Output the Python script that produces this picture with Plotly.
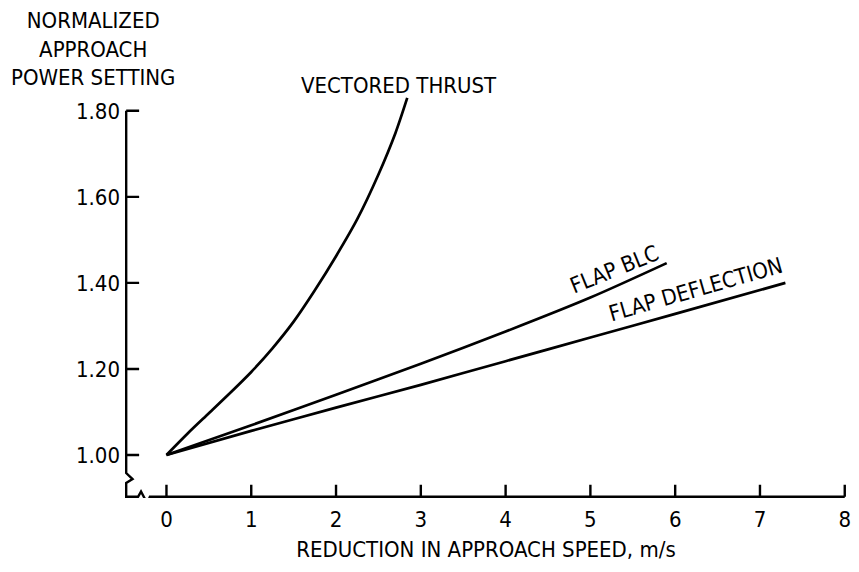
import plotly.graph_objects as go

# ---- data ----
vt_x = [0, 0.25, 0.5, 0.75, 1.0, 1.25, 1.5, 1.75, 2.0, 2.25, 2.5, 2.7, 2.84]
vt_y = [1.0, 1.05, 1.097, 1.144, 1.193, 1.248, 1.31, 1.383, 1.462, 1.548, 1.652, 1.748, 1.83]

blc_x = [0, 1, 2, 3, 4, 5, 5.9]
blc_y = [1.0, 1.069, 1.14, 1.212, 1.287, 1.366, 1.446]

fd_x = [0, 1, 2, 3, 4, 5, 6, 7.3]
fd_y = [1.0, 1.056, 1.11, 1.163, 1.218, 1.273, 1.328, 1.40]

x_ticks = [0, 1, 2, 3, 4, 5, 6, 7, 8]
x_tick_labels = ["0", "1", "2", "3", "4", "5", "6", "7", "8"]
y_ticks = [1.0, 1.2, 1.4, 1.6, 1.8]
y_tick_labels = ["1.00", "1.20", "1.40", "1.60", "1.80"]

FONT = "DejaVu Sans Condensed, Liberation Sans Narrow, DejaVu Sans"
FS = 22
XR = [-0.489, 8.0265]
YR = [0.9, 1.86]
X_PER_PX = (XR[1] - XR[0]) / 726.0
Y_PER_PX = (YR[1] - YR[0]) / 413.0

fig = go.Figure()
for xs, ys in [(vt_x, vt_y), (blc_x, blc_y), (fd_x, fd_y)]:
    fig.add_trace(go.Scatter(x=xs, y=ys, mode="lines",
                             line=dict(color="black", width=2.7, shape="spline", smoothing=0.8),
                             hoverinfo="skip", showlegend=False))

# axis lines with breaks, plus tick marks pointing into the plot (decoration)
x0 = XR[0] + 1.2 * X_PER_PX
yb = YR[0] + 1.2 * Y_PER_PX
path = (f"M {x0},1.8 L {x0},0.958 L {x0+0.075},0.944 L {x0},0.935 L {x0},{yb} "
        f"L -0.335,{yb} L -0.3,0.915 L -0.228,0.888 L -0.195,{yb} L 8.0,{yb}")
for t in x_ticks:
    path += f" M {t},{yb} L {t},{yb + 12 * Y_PER_PX}"
for t in y_ticks:
    path += f" M {x0},{t} L {x0 + 13 * X_PER_PX},{t}"
fig.add_shape(type="path", xref="x", yref="y", path=path,
              line=dict(color="black", width=2.4))

fig.add_annotation(text="NORMALIZED<br>APPROACH<br>POWER SETTING", xref="paper", yref="paper",
                   x=-0.0447, y=1.087, xanchor="center", yanchor="middle", showarrow=False,
                   align="center", font=dict(family=FONT, size=FS, color="black"))
fig.add_annotation(text="VECTORED THRUST", xref="x", yref="y", x=2.74, y=1.86,
                   showarrow=False, font=dict(family=FONT, size=FS, color="black"))
fig.add_annotation(text="FLAP BLC", xref="x", yref="y", x=5.28, y=1.43, textangle=-22,
                   showarrow=False, font=dict(family=FONT, size=FS, color="black"))
fig.add_annotation(text="FLAP DEFLECTION", xref="x", yref="y", x=6.24, y=1.384, textangle=-16,
                   showarrow=False, font=dict(family=FONT, size=FS, color="black"))

fig.update_xaxes(range=XR, showgrid=False, zeroline=False, showline=False,
                 tickmode="array", tickvals=x_ticks, ticktext=x_tick_labels,
                 ticks="", ticklabelstandoff=6,
                 tickfont=dict(family=FONT, size=FS, color="black"),
                 title=dict(text="REDUCTION IN APPROACH SPEED, m/s", standoff=10,
                            font=dict(family=FONT, size=FS, color="black")))
fig.update_yaxes(range=YR, showgrid=False, zeroline=False, showline=False,
                 tickmode="array", tickvals=y_ticks, ticktext=y_tick_labels,
                 ticks="", ticklabelstandoff=4,
                 tickfont=dict(family=FONT, size=FS, color="black"))

fig.update_layout(width=859, height=572, margin=dict(l=125, r=8, t=85, b=74),
                  plot_bgcolor="white", paper_bgcolor="white")

fig.write_html("out.html")
